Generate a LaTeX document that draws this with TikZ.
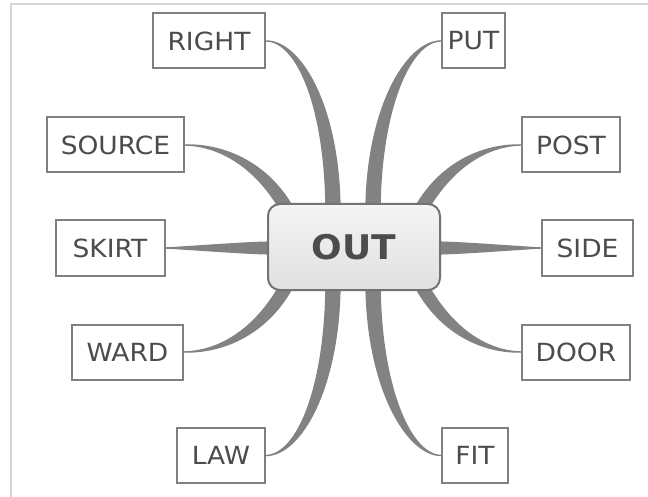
\documentclass[tikz,border=0pt]{standalone}
\usepackage{fontspec}
\setmainfont{DejaVu Sans}[FakeStretch=1.06]
\usetikzlibrary{calc,backgrounds}
\definecolor{boxline}{HTML}{808080}
\definecolor{txt}{HTML}{4C4C4C}
\definecolor{branchc}{HTML}{828282}
\definecolor{framec}{HTML}{D6D6D6}
\tikzset{
  leaf/.style={draw=boxline, line width=2pt, fill=white, inner sep=0pt,
    minimum height=55pt, text=txt, font=\fontsize{25}{29}\selectfont},
  hub/.style={draw=boxline!90!black, line width=2pt, rounded corners=12pt,
    top color=white!96!black, bottom color=white!88!black, inner sep=0pt,
    minimum width=172pt, minimum height=86pt, text=txt,
    font=\fontsize{34}{38}\selectfont\bfseries},
  branch/.style={fill=branchc, draw=branchc, line width=1.4pt, line join=round}
}
\newcommand\taper[5]{%
  \filldraw[branch] (#1) .. controls ($(#2)+0.3*(#5)$) and ($(#3)+(#5)$) .. ($(#4)+(#5)$)
    -- ($(#4)-(#5)$) .. controls ($(#3)-(#5)$) and ($(#2)-0.3*(#5)$) .. (#1) -- cycle;}
\begin{document}
\begin{tikzpicture}[x=1pt,y=-1pt]
\useasboundingbox (0,0) rectangle (648,497);
\draw[framec, line width=2pt] (10.5,497) -- (10.5,4) -- (648,4);
\node[hub] (out) at (354,247) {OUT};
\node[leaf, minimum width=112pt] (nRight) at (209,41) {RIGHT};
\node[leaf, minimum width=63pt] (nPut) at (473.5,41) {PUT};
\node[leaf, minimum width=137pt] (nSource) at (115.5,145) {SOURCE};
\node[leaf, minimum width=98pt] (nPost) at (571,145) {POST};
\node[leaf, minimum width=109pt] (nSkirt) at (110,248) {SKIRT};
\node[leaf, minimum width=91pt] (nSide) at (587.5,248) {SIDE};
\node[leaf, minimum width=111pt] (nWard) at (127.5,352) {WARD};
\node[leaf, minimum width=108pt] (nDoor) at (576,352) {DOOR};
\node[leaf, minimum width=88pt] (nLaw) at (221,455.5) {LAW};
\node[leaf, minimum width=66pt] (nFit) at (475,455.5) {FIT};
\begin{scope}[on background layer]
\coordinate (bRight) at ($(out.north)+(-21,10)$);
\coordinate (bPut) at ($(out.north)+(19,10)$);
\coordinate (bSource) at ($(out.north west)+(22,10)$);
\coordinate (bPost) at ($(out.north east)+(-22,10)$);
\coordinate (bSkirt) at ($(out.west)+(10,1)$);
\coordinate (bSide) at ($(out.east)+(-10,1)$);
\coordinate (bWard) at ($(out.south west)+(22,-10)$);
\coordinate (bDoor) at ($(out.south east)+(-22,-10)$);
\coordinate (bLaw) at ($(out.south)+(-21,-10)$);
\coordinate (bFit) at ($(out.south)+(19,-10)$);
\taper{nRight.east}{300,41}{333,110}{bRight}{7,0}
\taper{nPut.west}{408,41}{373,110}{bPut}{7,0}
\taper{nSource.east}{225,145}{265,168}{bSource}{5.2,-3.1}
\taper{nPost.west}{482,145}{443,168}{bPost}{5.2,3.1}
\taper{nSkirt.east}{200,248}{250,248}{bSkirt}{0,6}
\taper{nSide.west}{508,248}{458,248}{bSide}{0,6}
\taper{nWard.east}{225,352}{265,328}{bWard}{5.2,3.1}
\taper{nDoor.west}{482,352}{443,328}{bDoor}{5.2,-3.1}
\taper{nLaw.east}{300,455}{333,385}{bLaw}{7,0}
\taper{nFit.west}{408,455}{373,385}{bFit}{7,0}
\end{scope}
\end{tikzpicture}
\end{document}
